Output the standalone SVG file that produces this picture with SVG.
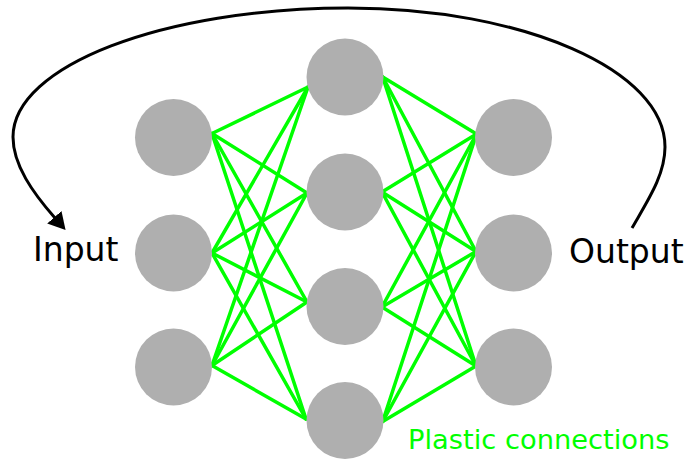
<svg xmlns="http://www.w3.org/2000/svg" width="687" height="460" viewBox="0 0 687 460">
<style>
.node{fill:#afafaf}
.conn line{stroke:#00ff00;stroke-width:3.5;stroke-linecap:round}
.lbl{font-family:"DejaVu Sans",sans-serif;fill:#000}
.green{font-family:"DejaVu Sans",sans-serif;fill:#00ff00}
</style>
<defs>
<marker id="ah" markerUnits="userSpaceOnUse" markerWidth="20" markerHeight="22" refX="1" refY="9.5" orient="auto" viewBox="0 0 20 19">
<path d="M0,0 L17,9.5 L0,19 z" fill="#000"/>
</marker>
</defs>
<rect width="687" height="460" fill="#fff"/>
<g id="connectors">
<g class="conn">
<line x1="212" y1="133.5" x2="308" y2="87"/>
<line x1="212" y1="133.5" x2="307" y2="193"/>
<line x1="212" y1="133.5" x2="307" y2="302"/>
<line x1="212" y1="133.5" x2="306" y2="419"/>
<line x1="212" y1="253" x2="308" y2="87"/>
<line x1="212" y1="253" x2="307" y2="193"/>
<line x1="212" y1="253" x2="307" y2="302"/>
<line x1="212" y1="253" x2="306" y2="419"/>
<line x1="212" y1="365.5" x2="308" y2="87"/>
<line x1="212" y1="365.5" x2="307" y2="193"/>
<line x1="212" y1="365.5" x2="307" y2="302"/>
<line x1="212" y1="365.5" x2="306" y2="419"/>
<line x1="382.7" y1="77" x2="476.5" y2="134"/>
<line x1="382.7" y1="77" x2="476" y2="251.5"/>
<line x1="382.7" y1="77" x2="476" y2="366"/>
<line x1="382" y1="192" x2="476.5" y2="134"/>
<line x1="382" y1="192" x2="476" y2="251.5"/>
<line x1="382" y1="192" x2="476" y2="366"/>
<line x1="382" y1="307" x2="476.5" y2="134"/>
<line x1="382" y1="307" x2="476" y2="251.5"/>
<line x1="382" y1="307" x2="476" y2="366"/>
<line x1="382.7" y1="421.5" x2="476.5" y2="134"/>
<line x1="382.7" y1="421.5" x2="476" y2="251.5"/>
<line x1="382.7" y1="421.5" x2="476" y2="366"/>
</g>
<path d="M632,228 C648,200 665,175 665,147 C665,70 523,8 348,8 C163,8 13,66 13,137 C13,165 33,193 55,218" fill="none" stroke="#000" stroke-width="3" marker-end="url(#ah)"/>
</g>
<g id="in1"><circle class="node" cx="173.5" cy="137.5" r="38.5"/></g>
<g id="in2"><circle class="node" cx="173.5" cy="253" r="38.5"/></g>
<g id="in3"><circle class="node" cx="173.5" cy="367" r="38.5"/></g>
<g id="h1"><circle class="node" cx="345" cy="77" r="38.5"/></g>
<g id="h2"><circle class="node" cx="345" cy="192" r="38.5"/></g>
<g id="h3"><circle class="node" cx="345" cy="306.5" r="38.5"/></g>
<g id="h4"><circle class="node" cx="345" cy="420.5" r="38.5"/></g>
<g id="out1"><circle class="node" cx="513.5" cy="137.5" r="38.5"/></g>
<g id="out2"><circle class="node" cx="513.5" cy="253" r="38.5"/></g>
<g id="out3"><circle class="node" cx="513.5" cy="367" r="38.5"/></g>
<g id="labels">
<text class="lbl" x="33" y="261" font-size="33">Input</text>
<text class="lbl" x="569" y="263" font-size="33">Output</text>
<text class="green" x="408" y="449" font-size="27.3">Plastic connections</text>
</g>
</svg>
